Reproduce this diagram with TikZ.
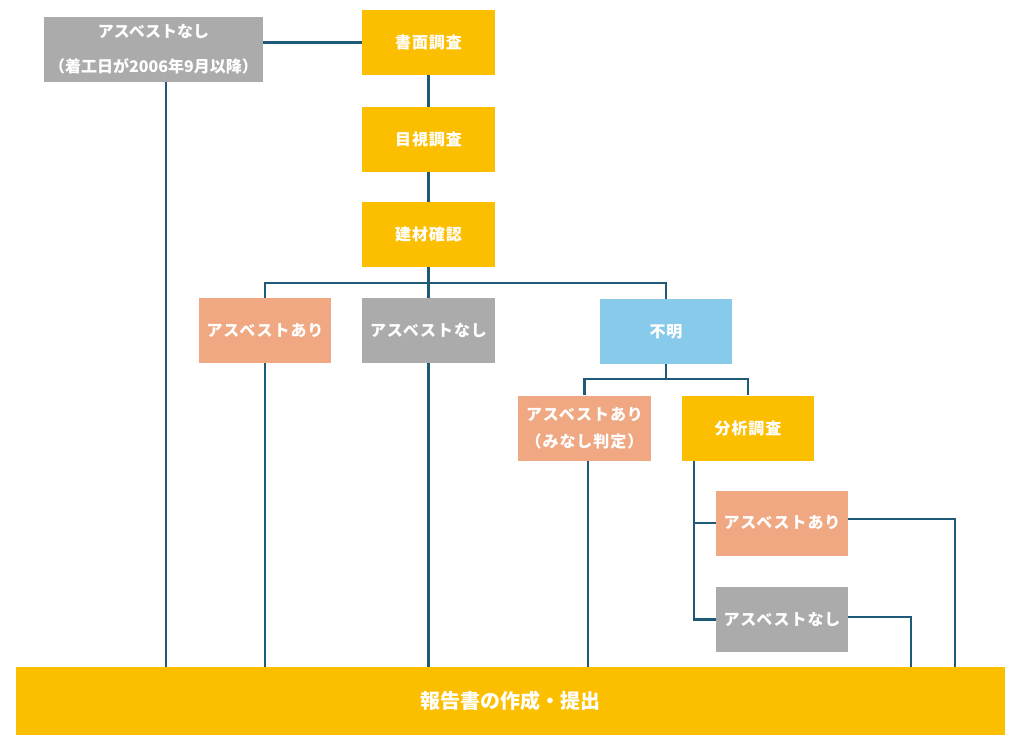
\documentclass[tikz,border=0pt]{standalone}
\usepackage{fontspec}
\newfontfamily\cjk[LetterSpace=6]{Noto Sans CJK JP}
\newfontfamily\cjkn{Noto Sans CJK JP}
\definecolor{lineC}{HTML}{1E5A78}
\definecolor{yel}{HTML}{FBBF00}
\definecolor{sal}{HTML}{F0A882}
\definecolor{gry}{HTML}{ABABAB}
\definecolor{blu}{HTML}{87CAEA}
\tikzset{
  box/.style={inner sep=0pt, minimum width=#1*0.75pt, minimum height=65*0.75pt, text=white, font=\cjk\bfseries\fontsize{12}{18}\selectfont, align=center},
  box/.default=133,
  conn/.style={draw=lineC, line width=2.2pt},
}
\begin{document}
\begin{tikzpicture}[x=0.75pt,y=-0.75pt]
\useasboundingbox (0,0) rectangle (1024,751);
% nodes
\node[box=219, fill=gry, minimum height=65*0.75pt, font=\cjkn\bfseries\fontsize{12}{26}\selectfont] (gtop) at (153.5,49.5) {アスベストなし\\（着工日が2006年9月以降）};
\node[box, fill=yel] (s1) at (428.5,42.5) {書面調査};
\node[box, fill=yel] (s2) at (428.5,139.5) {目視調査};
\node[box, fill=yel] (s3) at (428.5,234.5) {建材確認};
\node[box=132, fill=sal] (a1) at (265,330.5) {アスベストあり};
\node[box, fill=gry] (n1) at (428.5,330.5) {アスベストなし};
\node[box=132, fill=blu] (fm) at (666,331.5) {不明};
\node[box, fill=sal, font=\cjk\bfseries\fontsize{12}{20}\selectfont] (mn) at (584.5,428) {アスベストあり\\（みなし判定）};
\node[box=132, fill=yel] (bs) at (748,428) {分析調査};
\node[box=132, fill=sal] (a2) at (782,523) {アスベストあり};
\node[box=132, fill=gry] (n2) at (782,619.5) {アスベストなし};
\node[box=989, fill=yel, minimum height=68*0.75pt, font=\cjkn\bfseries\fontsize{15}{18}\selectfont] (bar) at (510.5,701) {報告書の作成・提出};
% helper coordinates
\coordinate (gx) at (166,0);
\coordinate (mx) at (588,0);
\coordinate (br1) at (0,283);
\coordinate (br2) at (0,379);
\coordinate (bx) at (694,0);
\coordinate (rx1) at (955,519);
\coordinate (rx2) at (911,617);
% connectors
\draw[conn] (s1.west) -- (s1.west -| gtop.east);
\draw[conn] (gtop.south -| gx) -- (bar.north -| gx);
\draw[conn] (s1.south) -- (s2.north);
\draw[conn] (s2.south) -- (s3.north);
\draw[conn] (s3.south) -- (s3.south |- br1);
\draw[conn] (a1.north) -- (a1.north |- br1) -- (fm.north |- br1) -- (fm.north);
\draw[conn] (n1.north |- br1) -- (n1.north);
\draw[conn] (a1.south) -- (a1.south |- bar.north);
\draw[conn] (n1.south) -- (n1.south |- bar.north);
\draw[conn] (fm.south) -- (fm.south |- br2);
\draw[conn] (mn.north) -- (mn.north |- br2) -- (bs.north |- br2) -- (bs.north);
\draw[conn] (mn.south -| mx) -- (bar.north -| mx);
\draw[conn] (bs.south -| bx) -- (bx |- n2.west) -- (n2.west);
\draw[conn] (bx |- a2.west) -- (a2.west);
\draw[conn] (a2.east |- rx1) -- (rx1) -- (rx1 |- bar.north);
\draw[conn] (n2.east |- rx2) -- (rx2) -- (rx2 |- bar.north);
\end{tikzpicture}
\end{document}
